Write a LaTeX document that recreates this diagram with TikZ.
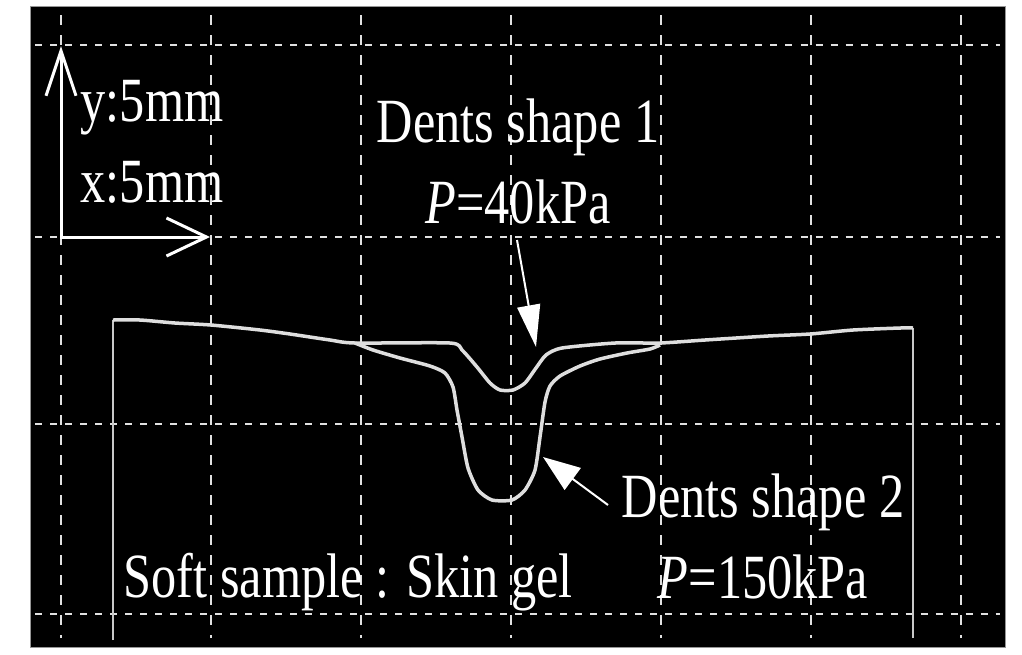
\documentclass[tikz,border=0pt]{standalone}
\usepackage{fontspec}
\setmainfont{Liberation Serif}[FakeStretch=0.8]
\usepackage{tikz}
\usetikzlibrary{arrows.meta, positioning}
\definecolor{gridgray}{RGB}{225,225,225}
\definecolor{tracegray}{RGB}{222,222,222}
\definecolor{wallgray}{RGB}{200,200,200}
\definecolor{framegray}{RGB}{150,150,150}
\tikzset{
  gridh/.style={
    draw=gridgray, line width=0.025cm,
    dash pattern=on 0.07cm off 0.08cm
  },
  gridv/.style={
    draw=gridgray, line width=0.025cm,
    dash pattern=on 0.10cm off 0.10cm
  },
  trace/.style={draw=tracegray, line width=0.035cm, line join=round},
  wall/.style={draw=wallgray, line width=0.025cm},
  axis/.style={draw=white, line width=0.03cm, line join=miter},
  pointer/.style={draw=white, fill=white, line width=0.02cm},
  caption/.style={
    text=white, inner sep=0pt,
    font=\fontsize{17.9pt}{22.8pt}\selectfont
  }
}

\begin{document}
\begin{tikzpicture}[x=0.01cm, y=-0.01cm]

% ═══════════════════════════════════════════════════════════════════
% CANVAS
% ═══════════════════════════════════════════════════════════════════
\useasboundingbox (0,0) rectangle (1022,654);
\fill[white] (0,0) rectangle (1022,654);
\draw[fill=black, draw=framegray, line width=0.01cm]
  (30,6) rectangle (1005,647);

% ═══════════════════════════════════════════════════════════════════
% GRID
% ═══════════════════════════════════════════════════════════════════
\draw[gridh] (35,45)  -- (1000,45);
\draw[gridh] (35,237) -- (1000,237);
\draw[gridh] (35,424) -- (1000,424);
\draw[gridh] (35,614) -- (1000,614);

\draw[gridv] (61,15)  -- (61,638);
\draw[gridv] (211,15) -- (211,638);
\draw[gridv] (361,15) -- (361,638);
\draw[gridv] (511,15) -- (511,638);
\draw[gridv] (661,15) -- (661,638);
\draw[gridv] (811,15) -- (811,638);
\draw[gridv] (961,15) -- (961,638);

% ═══════════════════════════════════════════════════════════════════
% SCALE AXES
% ═══════════════════════════════════════════════════════════════════
\coordinate (origin) at (61,237);
\coordinate (ytip)   at (61,46);
\coordinate (xtip)   at (210,237);

\draw[axis,
      {Straight Barb[length=0.45cm, width=0.30cm]}-{Straight Barb[length=0.40cm, width=0.38cm]}]
  (ytip) -- (origin) -- (xtip);

% base anchor of a two-line node sits on its last line
\node[caption, align=left, anchor=base west]
  (scale) at (80,202) {y:5mm\\x:5mm};

% ═══════════════════════════════════════════════════════════════════
% SAMPLE PROFILE
% ═══════════════════════════════════════════════════════════════════

% ── side walls ───────────────────────────────────────────────────
\draw[wall] (113,640) -- (113,320);
\draw[wall] (913,328) -- (913,638);

% ── dent shape 1 (shallow) ───────────────────────────────────────
\draw[trace] plot[smooth, tension=0.4] coordinates {
  (113,320) (140,320) (175,323) (211,325) (260,330) (290,334)
  (330,340) (355,343) (450,343) (462,350) (477,367) (490,383)
  (500,390) (513,390) (525,383) (536,368) (546,355) (562,348)
  (615,343) (660,343) (705,340) (768,336) (810,334) (853,330)
  (900,328) (913,328)};

% ── dent shape 2 (deep) ──────────────────────────────────────────
\draw[trace] plot[smooth, tension=0.4] coordinates {
  (355,343) (373,350) (400,358) (430,366) (445,373) (453,387)
  (457,410) (462,437) (468,468) (478,490) (492,500) (512,500)
  (525,490) (535,470) (540,437) (545,402) (550,386) (560,376)
  (580,366) (600,359) (627,353) (650,349) (660,345)};

% ═══════════════════════════════════════════════════════════════════
% LABELS
% ═══════════════════════════════════════════════════════════════════
\node[caption, align=center, anchor=base]
  (dent1) at (518,223) {Dents shape 1\\\textit{P}=40kPa};

\node[caption, align=center, anchor=base]
  (dent2) at (763,598) {Dents shape 2\\\textit{P}=150kPa};

\node[caption, anchor=base west]
  (sample) at (123,597) {Soft sample : Skin gel};

% ═══════════════════════════════════════════════════════════════════
% POINTERS
% ═══════════════════════════════════════════════════════════════════
\coordinate (tail1) at (517,240);
\coordinate (tip1)  at (536,347);
\coordinate (tail2) at (608,505);
\coordinate (tip2)  at (543,457);

\draw[pointer, -{Triangle[length=0.42cm, width=0.23cm]}]
  (tail1) -- (tip1);
\draw[pointer, -{Triangle[length=0.37cm, width=0.27cm]}]
  (tail2) -- (tip2);

\end{tikzpicture}
\end{document}
